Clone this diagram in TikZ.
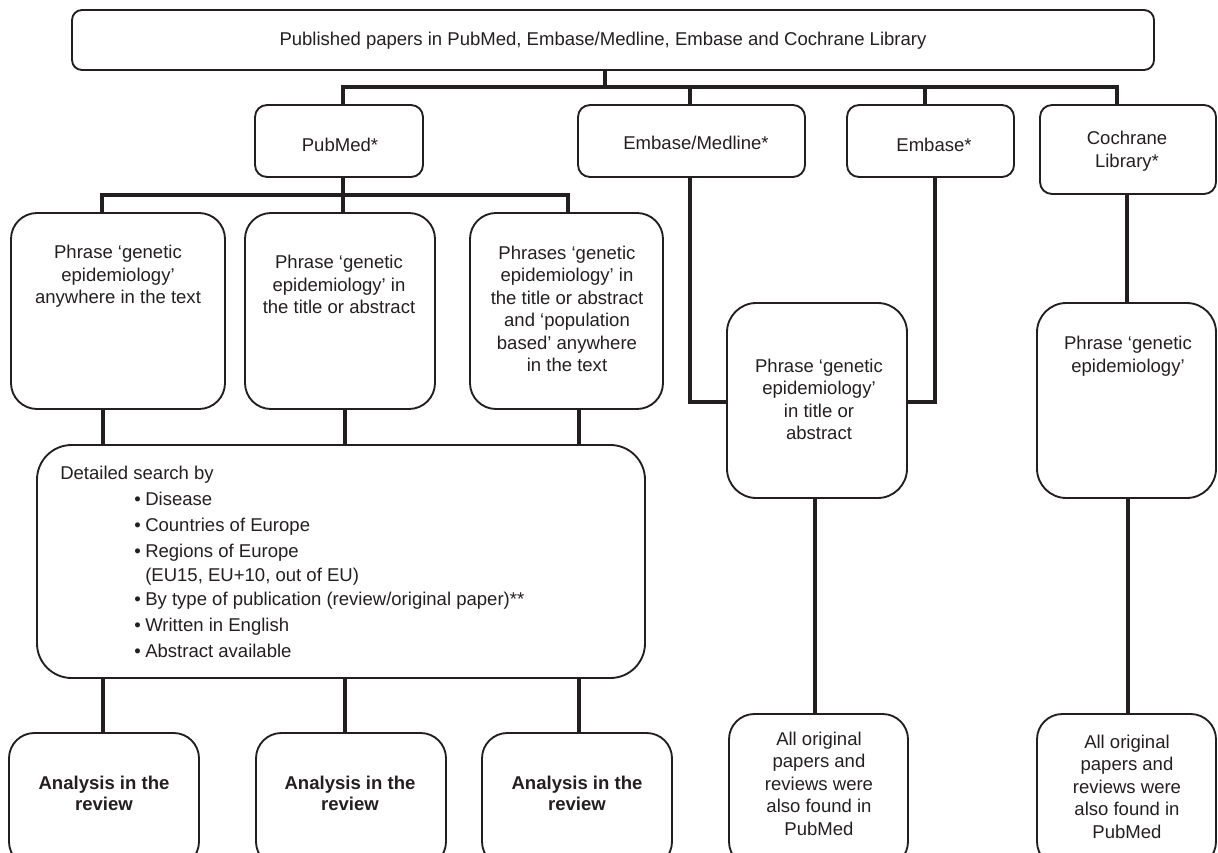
\documentclass[tikz,border=0pt]{standalone}
\usepackage{fontspec}
\setmainfont{Liberation Sans}
\usetikzlibrary{fit}
\definecolor{ink}{HTML}{231F20}
\newcommand\dbul{\hspace*{55.5pt}\makebox[8.25pt][l]{•}}
\newcommand\dcont{\hspace*{63.75pt}}
\begin{document}
\begin{tikzpicture}[x=0.75pt,y=-0.75pt,
  boxs/.style={draw=ink, line width=1.4pt, inner sep=0pt, rounded corners=#1},
  boxs/.default=9pt,
  conn/.style={draw=ink, line width=3.4pt, line join=miter},
  lbl/.style={align=center, inner sep=0pt, text=ink, font={\fontsize{13.9}{16.9}\selectfont}},
  blbl/.style={lbl, font={\fontsize{13.9}{15.75}\selectfont\bfseries}}]
\useasboundingbox (0,0) rectangle (1218,853);
\clip (0,0) rectangle (1218,853);

% boxes
\node[boxs=7.5pt, fit={(72,10) (1154,70)}] (T) {};
\node[boxs, fit={(255,105) (423,177)}] (P) {};
\node[boxs, fit={(578,105) (805,177)}] (E1) {};
\node[boxs, fit={(847,105) (1014,177)}] (E2) {};
\node[boxs, fit={(1040,105) (1216,194)}] (C) {};
\node[boxs=19.5pt, fit={(11,213) (225,409)}] (B1) {};
\node[boxs=19.5pt, fit={(245,213) (435,409)}] (B2) {};
\node[boxs=19.5pt, fit={(470,213) (663,409)}] (B3) {};
\node[boxs=22pt, fit={(727,303) (907,498)}] (M) {};
\node[boxs=22pt, fit={(1037,303) (1216,498)}] (CP) {};
\node[boxs=26pt, fit={(37,445) (645,678)}] (D) {};
\node[boxs=19pt, fit={(9,733) (199,867)}] (A1) {};
\node[boxs=19pt, fit={(256,733) (446,867)}] (A2) {};
\node[boxs=19pt, fit={(482,733) (672,867)}] (A3) {};
\node[boxs=19pt, fit={(729,714) (908,867)}] (O1) {};
\node[boxs=19pt, fit={(1037,714) (1216,867)}] (O2) {};

% texts
\node[lbl] (Tt) at (603,41) {Published papers in PubMed, Embase/Medline, Embase and Cochrane Library};
\node[lbl] (Pt) at (340,145) {PubMed*};
\node[lbl] (E1t) at (696,143) {Embase/Medline*};
\node[lbl] (E2t) at (934,145) {Embase*};
\node[lbl] (Ct) at (1127,151) {Cochrane\\Library*};
\node[lbl] (B1t) at (118,276.5) {Phrase ‘genetic\\epidemiology’\\anywhere in the text};
\node[lbl] (B2t) at (339,284.5) {Phrase ‘genetic\\epidemiology’ in\\the title or abstract};
\node[lbl] (B3t) at (567,309) {Phrases ‘genetic\\epidemiology’ in\\the title or abstract\\and ‘population\\based’ anywhere\\in the text};
\node[lbl] (Mt) at (819,399.5) {Phrase ‘genetic\\epidemiology’\\in title or\\abstract};
\node[lbl] (CPt) at (1128,356) {Phrase ‘genetic\\epidemiology’};
\node[lbl, align=left, anchor=north west, font={\fontsize{13.9}{19.5}\selectfont}] (Dt) at (60,466)
  {Detailed search by\\
   \dbul Disease\\
   \dbul Countries of Europe\\
   \dbul Regions of Europe\\[-1.5pt]
   \dcont (EU15, EU+10, out of EU)\\[-1.5pt]
   \dbul By type of publication (review/original paper)**\\
   \dbul Written in English\\
   \dbul Abstract available};
\node[blbl] (A1t) at (104,793.5) {Analysis in the\\review};
\node[blbl] (A2t) at (350,793.5) {Analysis in the\\review};
\node[blbl] (A3t) at (577,793.5) {Analysis in the\\review};
\node[lbl] (O1t) at (819,783.5) {All original\\papers and\\reviews were\\also found in\\PubMed};
\node[lbl] (O2t) at (1127,786.5) {All original\\papers and\\reviews were\\also found in\\PubMed};

% connectors
\draw[conn] (T.south -| 605,0) -- (605,87);
\draw[conn] (P.north -| 343,0) -- (343,87) -- (1117,87) -- (C.north -| 1117,0);
\draw[conn] (E1.north -| 690,0) -- (690,87);
\draw[conn] (E2.north -| 925,0) -- (925,87);

\draw[conn] (P.south -| 343,0) -- (343,195);
\draw[conn] (B1.north -| 102,0) -- (102,195) -- (568,195) -- (B3.north -| 568,0);
\draw[conn] (B2.north -| 343,0) -- (343,195);

\draw[conn] (B1.south -| 103,0) -- (D.north -| 103,0);
\draw[conn] (B2.south -| 345,0) -- (D.north -| 345,0);
\draw[conn] (B3.south -| 579,0) -- (D.north -| 579,0);
\draw[conn] (D.south -| 103,0) -- (A1.north -| 103,0);
\draw[conn] (D.south -| 345,0) -- (A2.north -| 345,0);
\draw[conn] (D.south -| 579,0) -- (A3.north -| 579,0);

\draw[conn] (E1.south -| 690,0) -- (690,402) -- (M.west |- 0,402);
\draw[conn] (E2.south -| 935,0) -- (935,402) -- (M.east |- 0,402);
\draw[conn] (C.south -| 1127,0) -- (CP.north -| 1127,0);
\draw[conn] (M.south -| 815,0) -- (O1.north -| 815,0);
\draw[conn] (CP.south -| 1128,0) -- (O2.north -| 1128,0);
\end{tikzpicture}
\end{document}
